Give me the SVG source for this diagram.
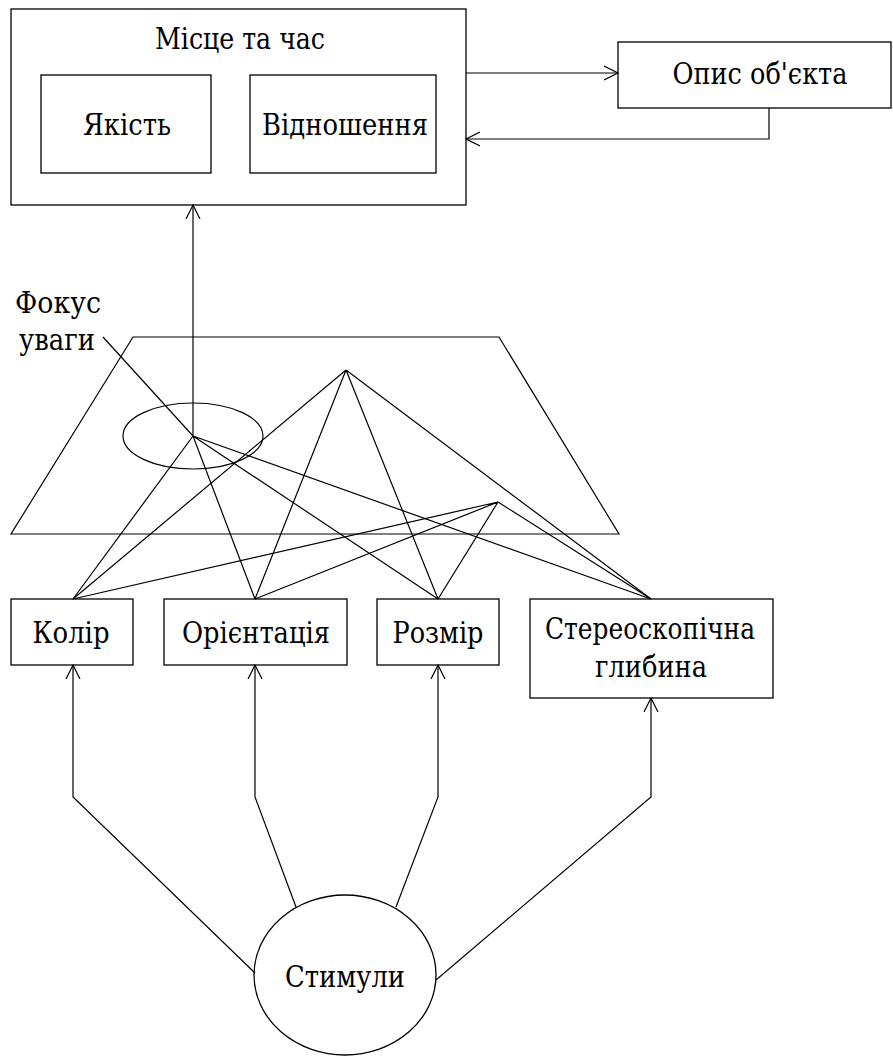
<svg xmlns="http://www.w3.org/2000/svg" width="893" height="1057" viewBox="0 0 893 1057">
<style>
.b{fill:#fff;stroke:#000;stroke-width:1.3}
.l{fill:none;stroke:#000;stroke-width:1.2}
.t{font-family:'DejaVu Serif','Liberation Serif',serif;font-size:30px;fill:#000;text-anchor:middle}
.s{text-anchor:start}
</style>
<defs>
<marker id="ah" viewBox="0 0 16 16" refX="14" refY="8" markerWidth="16" markerHeight="16" markerUnits="userSpaceOnUse" orient="auto">
<path d="M0,1 L14,8 L0,15" fill="none" stroke="#000" stroke-width="1.2"/>
</marker>
</defs>
<g id="n-place">
<rect class="b" x="11" y="9" width="455" height="196"/>
<text class="t" x="240" y="49" textLength="170" lengthAdjust="spacingAndGlyphs">Місце та час</text>
</g>
<g id="n-quality">
<rect class="b" x="41" y="75" width="170" height="98"/>
<text class="t" x="127" y="135" textLength="88" lengthAdjust="spacingAndGlyphs">Якість</text>
</g>
<g id="n-relation">
<rect class="b" x="250" y="75" width="186" height="98"/>
<text class="t" x="345" y="135" textLength="166" lengthAdjust="spacingAndGlyphs">Відношення</text>
</g>
<g id="n-object">
<rect class="b" x="618" y="42" width="273" height="66"/>
<text class="t" x="760" y="84" textLength="175" lengthAdjust="spacingAndGlyphs">Опис об'єкта</text>
</g>
<g id="n-map">
<path class="l" d="M133,337 L499,337 L619,534 L11,534 Z"/>
<ellipse class="l" cx="193" cy="436" rx="70" ry="33"/>
<text class="t s" x="15" y="313" textLength="86" lengthAdjust="spacingAndGlyphs">Фокус</text>
<text class="t s" x="19" y="350" textLength="76" lengthAdjust="spacingAndGlyphs">уваги</text>
</g>
<g id="n-color">
<rect class="b" x="11" y="599" width="122" height="66"/>
<text class="t" x="71" y="643" textLength="77" lengthAdjust="spacingAndGlyphs">Колір</text>
</g>
<g id="n-orient">
<rect class="b" x="164" y="599" width="183" height="66"/>
<text class="t" x="256" y="643" textLength="148" lengthAdjust="spacingAndGlyphs">Орієнтація</text>
</g>
<g id="n-size">
<rect class="b" x="377" y="599" width="122" height="66"/>
<text class="t" x="438" y="643" textLength="91" lengthAdjust="spacingAndGlyphs">Розмір</text>
</g>
<g id="n-depth">
<rect class="b" x="530" y="599" width="243" height="99"/>
<text class="t" x="650" y="639" textLength="210" lengthAdjust="spacingAndGlyphs">Стереоскопічна</text>
<text class="t" x="651" y="677" textLength="112" lengthAdjust="spacingAndGlyphs">глибина</text>
</g>
<g id="n-stimuli">
<ellipse class="b" cx="345" cy="975" rx="91" ry="80"/>
<text class="t" x="345" y="987" textLength="120" lengthAdjust="spacingAndGlyphs">Стимули</text>
</g>
<g id="connectors">
<path class="l" d="M466,73 L618,73" marker-end="url(#ah)"/>
<path class="l" d="M769,108 L769,139 L466,139" marker-end="url(#ah)"/>
<path class="l" d="M193,436 L193,205" marker-end="url(#ah)"/>
<path class="l" d="M103,337 L193,436"/>
<path class="l" d="M193,436 L73,599 M193,436 L255,599 M193,436 L438,599 M193,436 L651,599"/>
<path class="l" d="M346,370 L73,599 M346,370 L255,599 M346,370 L438,599 M346,370 L651,599"/>
<path class="l" d="M498,502 L73,599 M498,502 L255,599 M498,502 L438,599 M498,502 L651,599"/>
<path class="l" d="M255,973 L73,797 L73,665" marker-end="url(#ah)"/>
<path class="l" d="M296,907 L255,797 L255,665" marker-end="url(#ah)"/>
<path class="l" d="M396,907 L438,797 L438,665" marker-end="url(#ah)"/>
<path class="l" d="M436,980 L651,797 L651,698" marker-end="url(#ah)"/>
</g>
</svg>
